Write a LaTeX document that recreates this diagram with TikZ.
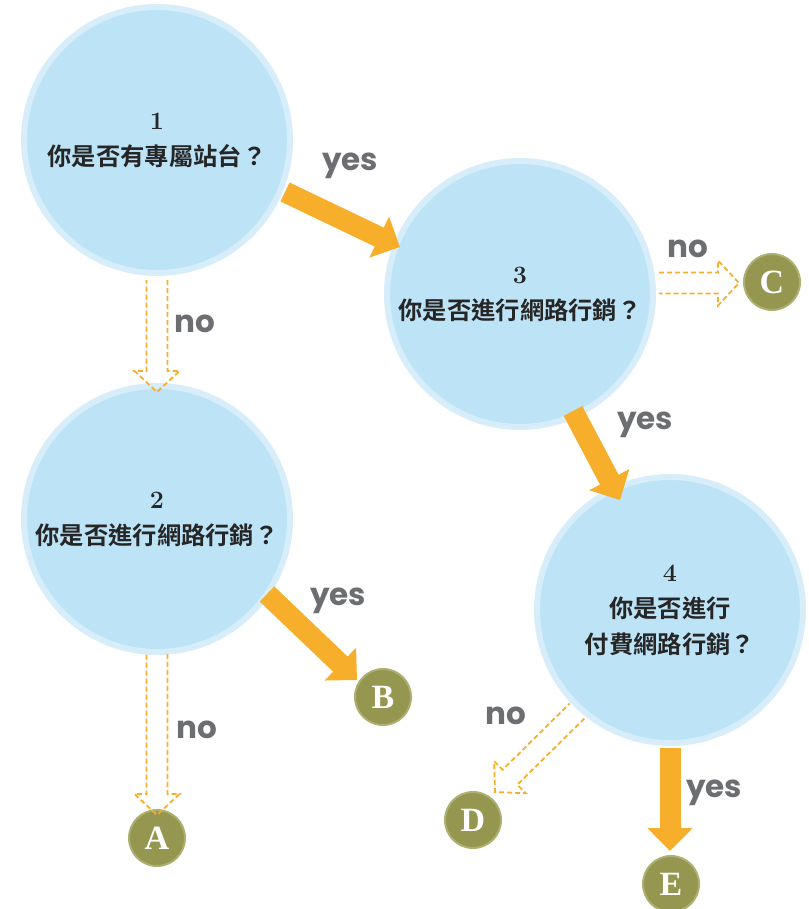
\documentclass[tikz,border=0pt]{standalone}
\usepackage{fontspec}
\usetikzlibrary{arrows.meta,calc}
\newfontfamily\cjk[BoldFont={Noto Sans CJK TC Bold}]{Noto Sans CJK TC}
\newfontfamily\labfont{Poppins}
\newfontfamily\letterfont{Liberation Serif}
\newcommand\numfont{\normalfont\bfseries\fontsize{25}{36}\selectfont}
\definecolor{bluefill}{HTML}{BDE3F7}
\definecolor{bluering}{HTML}{D7EEFA}
\definecolor{orangec}{HTML}{F7AE2A}
\definecolor{olivefill}{HTML}{959650}
\definecolor{olivering}{HTML}{AEB072}
\definecolor{labgray}{HTML}{6D6E71}
\newcommand\hollowarrow[2]{%
  \coordinate (ha-b) at ($(#2)!21pt!(#1)$);
  \draw[hollowline] ($(#1)!10.5pt!90:(#2)$) -- ($(ha-b)!10.5pt!-90:(#1)$)
    -- ($(ha-b)!22.5pt!-90:(#1)$) -- (#2) -- ($(ha-b)!22.5pt!90:(#1)$)
    -- ($(ha-b)!10.5pt!90:(#1)$) -- ($(#1)!10.5pt!-90:(#2)$);
}
\begin{document}
\begin{tikzpicture}[x=1pt,y=-1pt,
  bigc/.style={circle,fill=bluefill,draw=bluering,line width=6pt,minimum size=266pt,inner sep=0pt,
    align=center,font=\cjk\bfseries\fontsize{24.3}{36}\selectfont,text=black!85},
  smallc/.style={circle,fill=olivefill,draw=olivering,line width=2pt,minimum size=56pt,inner sep=0pt,
    text=white,font=\letterfont\bfseries\fontsize{34}{34}\selectfont},
  solidarrow/.style={draw=orangec,line width=21pt,-{Triangle[width=44pt,length=23pt]}},
  hollowline/.style={draw=orangec,line width=1.8pt,dash pattern=on 5pt off 3pt,line join=miter},
  lab/.style={text=labgray,font=\labfont\bfseries\fontsize{31}{31}\selectfont}
]
\useasboundingbox (0,0) rectangle (808,909);
% big circles
\node[bigc] (c1) at (157,140) {{\numfont 1}\\你是否有專屬站台？};
\node[bigc] (c2) at (157,519) {{\numfont 2}\\你是否進行網路行銷？};
\node[bigc] (c3) at (520,294) {{\numfont 3}\\你是否進行網路行銷？};
\node[bigc] (c4) at (670,610) {{\numfont 4}\\你是否進行\\付費網路行銷？};
% small circles
\node[smallc] (A) at (157,838) {A};
\node[smallc] (B) at (383,697) {B};
\node[smallc] (C) at (772,282) {C};
\node[smallc] (D) at (473,820) {D};
\node[smallc] (E) at (671,884) {E};
% connector end points
\coordinate (s13) at (285,192); \coordinate (t13) at (400,247);
\coordinate (s34) at (573,411); \coordinate (t34) at (620,500);
\coordinate (s2B) at (267,594); \coordinate (t2B) at (357,680);
\coordinate (s4E) at (670,748); \coordinate (t4E) at (670,851);
\coordinate (s12) at (157,280); \coordinate (t12) at (157,392);
\coordinate (s2A) at (157,654); \coordinate (t2A) at (157,815);
\coordinate (s3C) at (659,283); \coordinate (t3C) at (739,283);
\coordinate (s4D) at (577,711); \coordinate (t4D) at (495,792);
% solid yes arrows
\draw[solidarrow] (s13) -- (t13);
\draw[solidarrow] (s34) -- (t34);
\draw[solidarrow] (s2B) -- (t2B);
\draw[solidarrow] (s4E) -- (t4E);
% hollow dashed no arrows
\hollowarrow{s12}{t12}
\hollowarrow{s2A}{t2A}
\hollowarrow{s3C}{t3C}
\hollowarrow{s4D}{t4D}
% labels
\node[lab] (l13) at (350,166) {yes};
\node[lab] (l12) at (195,324) {no};
\node[lab] (l3C) at (688,249) {no};
\node[lab] (l34) at (645,425) {yes};
\node[lab] (l2B) at (338,601) {yes};
\node[lab] (l2A) at (197,730) {no};
\node[lab] (l4D) at (506,716) {no};
\node[lab] (l4E) at (714,793) {yes};
\end{tikzpicture}
\end{document}
